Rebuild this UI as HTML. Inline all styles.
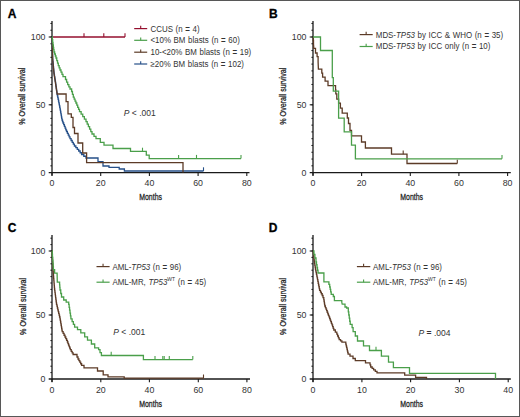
<!DOCTYPE html>
<html><head><meta charset="utf-8"><style>
html,body{margin:0;padding:0;background:#fff;}
body{width:520px;height:417px;overflow:hidden;}
svg{display:block;}
text{font-family:"Liberation Sans",sans-serif;fill:#333;}
.t{font-size:8.8px;}
.lg{font-size:8.8px;word-spacing:0.5px;}
.pv{font-size:8.5px;}
.pl{font-size:12px;font-weight:bold;fill:#000;stroke:#000;stroke-width:0.3px;}
.at{font-size:9.4px;fill:#222;stroke:#222;stroke-width:0.28px;}
</style></head><body>
<svg width="520" height="417" viewBox="0 0 520 417">
<rect x="0" y="0" width="520" height="417" fill="#fff"/>
<line x1="52" y1="21" x2="52" y2="175.6" stroke="#1a1a1a" stroke-width="1.3"/>
<line x1="48.7" y1="172.6" x2="249.5" y2="172.6" stroke="#1a1a1a" stroke-width="1.3"/>
<line x1="48.7" y1="37" x2="52" y2="37" stroke="#1a1a1a" stroke-width="1.1"/>
<line x1="48.7" y1="104.8" x2="52" y2="104.8" stroke="#1a1a1a" stroke-width="1.1"/>
<line x1="50.4" y1="165.82" x2="52" y2="165.82" stroke="#1a1a1a" stroke-width="1"/>
<line x1="50.4" y1="159.04" x2="52" y2="159.04" stroke="#1a1a1a" stroke-width="1"/>
<line x1="50.4" y1="152.26" x2="52" y2="152.26" stroke="#1a1a1a" stroke-width="1"/>
<line x1="50.4" y1="145.48" x2="52" y2="145.48" stroke="#1a1a1a" stroke-width="1"/>
<line x1="50.4" y1="138.70" x2="52" y2="138.70" stroke="#1a1a1a" stroke-width="1"/>
<line x1="50.4" y1="131.92" x2="52" y2="131.92" stroke="#1a1a1a" stroke-width="1"/>
<line x1="50.4" y1="125.14" x2="52" y2="125.14" stroke="#1a1a1a" stroke-width="1"/>
<line x1="50.4" y1="118.36" x2="52" y2="118.36" stroke="#1a1a1a" stroke-width="1"/>
<line x1="50.4" y1="111.58" x2="52" y2="111.58" stroke="#1a1a1a" stroke-width="1"/>
<line x1="50.4" y1="104.80" x2="52" y2="104.80" stroke="#1a1a1a" stroke-width="1"/>
<line x1="50.4" y1="98.02" x2="52" y2="98.02" stroke="#1a1a1a" stroke-width="1"/>
<line x1="50.4" y1="91.24" x2="52" y2="91.24" stroke="#1a1a1a" stroke-width="1"/>
<line x1="50.4" y1="84.46" x2="52" y2="84.46" stroke="#1a1a1a" stroke-width="1"/>
<line x1="50.4" y1="77.68" x2="52" y2="77.68" stroke="#1a1a1a" stroke-width="1"/>
<line x1="50.4" y1="70.90" x2="52" y2="70.90" stroke="#1a1a1a" stroke-width="1"/>
<line x1="50.4" y1="64.12" x2="52" y2="64.12" stroke="#1a1a1a" stroke-width="1"/>
<line x1="50.4" y1="57.34" x2="52" y2="57.34" stroke="#1a1a1a" stroke-width="1"/>
<line x1="50.4" y1="50.56" x2="52" y2="50.56" stroke="#1a1a1a" stroke-width="1"/>
<line x1="50.4" y1="43.78" x2="52" y2="43.78" stroke="#1a1a1a" stroke-width="1"/>
<line x1="50.4" y1="37.00" x2="52" y2="37.00" stroke="#1a1a1a" stroke-width="1"/>
<line x1="50.4" y1="30.22" x2="52" y2="30.22" stroke="#1a1a1a" stroke-width="1"/>
<line x1="50.4" y1="23.44" x2="52" y2="23.44" stroke="#1a1a1a" stroke-width="1"/>
<line x1="52" y1="172.6" x2="52" y2="175.9" stroke="#1a1a1a" stroke-width="1.1"/>
<text x="52" y="186.3" class="t" text-anchor="middle">0</text>
<line x1="100.7" y1="172.6" x2="100.7" y2="175.9" stroke="#1a1a1a" stroke-width="1.1"/>
<text x="100.7" y="186.3" class="t" text-anchor="middle">20</text>
<line x1="149.4" y1="172.6" x2="149.4" y2="175.9" stroke="#1a1a1a" stroke-width="1.1"/>
<text x="149.4" y="186.3" class="t" text-anchor="middle">40</text>
<line x1="198.1" y1="172.6" x2="198.1" y2="175.9" stroke="#1a1a1a" stroke-width="1.1"/>
<text x="198.1" y="186.3" class="t" text-anchor="middle">60</text>
<line x1="246.8" y1="172.6" x2="246.8" y2="175.9" stroke="#1a1a1a" stroke-width="1.1"/>
<text x="246.8" y="186.3" class="t" text-anchor="middle">80</text>
<text x="45.5" y="40" class="t" text-anchor="end">100</text>
<text x="45.5" y="107.8" class="t" text-anchor="end">50</text>
<text x="45.5" y="175.6" class="t" text-anchor="end">0</text>
<text x="7.7" y="18.0" class="pl">A</text>
<text class="at" text-anchor="middle" transform="translate(25.4,96.2) rotate(-90) scale(0.76,1)">% Overall survival</text>
<text class="at" text-anchor="middle" transform="translate(150.6,200) scale(0.74,1)">Months</text>
<polyline points="52,37 125,37" fill="none" stroke="#940f2e" stroke-width="1.3" stroke-linejoin="miter"/>
<line x1="84" y1="37" x2="84" y2="33.3" stroke="#940f2e" stroke-width="1.1"/>
<line x1="103.8" y1="37" x2="103.8" y2="33.3" stroke="#940f2e" stroke-width="1.1"/>
<line x1="125" y1="37" x2="125" y2="33.3" stroke="#940f2e" stroke-width="1.1"/>
<polyline points="52,37 52.05,37 52.05,38.64 52.1,38.64 52.1,40.29 52.15,40.29 52.15,41.93 52.2,41.93 52.2,43.57 52.25,43.57 52.25,45.21 52.3,45.21 52.3,46.86 52.35,46.86 52.35,48.5 52.4,48.5 52.4,50.14 52.45,50.14 52.45,51.79 52.5,51.79 52.5,53.43 52.55,53.43 52.55,55.07 52.6,55.07 52.6,56.71 52.65,56.71 52.65,58.36 52.7,58.36 52.7,60 52.86,60 52.86,61.69 53.03,61.69 53.03,63.38 53.19,63.38 53.19,65.06 53.35,65.06 53.35,66.75 53.51,66.75 53.51,68.44 53.67,68.44 53.67,70.12 53.84,70.12 53.84,71.81 54,71.81 54,73.5 54.25,73.5 54.25,75.08 54.5,75.08 54.5,76.67 54.75,76.67 54.75,78.25 55,78.25 55,79.83 55.25,79.83 55.25,81.42 55.5,81.42 55.5,83 55.75,83 55.75,84.83 56,84.83 56,86.67 56.25,86.67 56.25,88.5 56.5,88.5 56.5,90.33 56.75,90.33 56.75,92.17 57,92.17 57,94 57.38,94 57.38,95.75 57.75,95.75 57.75,97.5 58.12,97.5 58.12,99.25 58.5,99.25 58.5,101 58.8,101 58.8,102.56 59.1,102.56 59.1,104.12 59.4,104.12 59.4,105.68 59.7,105.68 59.7,107.24 60,107.24 60,108.8 60.29,108.8 60.29,110.4 60.57,110.4 60.57,112 60.86,112 60.86,113.6 61.14,113.6 61.14,115.2 61.43,115.2 61.43,116.8 61.71,116.8 61.71,118.4 62,118.4 62,120 62.5,120 62.5,121.5 63,121.5 63,123 63.7,123 63.7,124.7 64.4,124.7 64.4,126.4 65.1,126.4 65.1,128.1 65.8,128.1 65.8,129.8 66.5,129.8 66.5,131.5 67.38,131.5 67.38,133.3 68.25,133.3 68.25,135.1 69.12,135.1 69.12,136.9 70,136.9 70,138.7 71.1,138.7 71.1,140.52 72.2,140.52 72.2,142.35 73.3,142.35 73.3,144.18 74.4,144.18 74.4,146 75.83,146 75.83,147.67 77.27,147.67 77.27,149.33 78.7,149.33 78.7,151 80.15,151 80.15,152.75 81.6,152.75 81.6,154.5 83.8,154.5 83.8,156.25 86,156.25 86,158 98,158 98,161.7 103,161.7 103,166 109,166 109,167.3 119.2,167.3 119.2,169 124.4,169 124.4,171 203.5,171" fill="none" stroke="#254f88" stroke-width="1.3" stroke-linejoin="miter"/>
<polyline points="52,37 52.7,60 54,73.5 55.5,83 57.2,94 66.1,94 66.1,101.6 68,101.6 68,113.8 71.3,113.8 71.3,117.4 73,117.4 73,127.5 74.5,127.5 74.5,133.5 78,133.5 78,143 82.7,143 82.7,153 86.6,153 86.6,162.7 183,162.7 183,172.6" fill="none" stroke="#5c3b27" stroke-width="1.3" stroke-linejoin="miter"/>
<polyline points="52,37 52.33,37 52.33,39.67 52.67,39.67 52.67,42.33 53,42.33 53,45 53.33,45 53.33,47.33 53.67,47.33 53.67,49.67 54,49.67 54,52 54.67,52 54.67,54 55.33,54 55.33,56 56,56 56,58 56.77,58 56.77,60.53 57.53,60.53 57.53,63.07 58.3,63.07 58.3,65.6 59.15,65.6 59.15,67.8 60,67.8 60,70 61,70 61,72.2 62,72.2 62,74.4 63,74.4 63,76.6 65.5,76.6 65.5,79.5 66.6,79.5 66.6,82.05 67.7,82.05 67.7,84.6 68.85,84.6 68.85,86.8 70,86.8 70,89 71.6,89 71.6,91.5 72.45,91.5 72.45,94.35 73.3,94.35 73.3,97.2 74.17,97.2 74.17,99.13 75.03,99.13 75.03,101.07 75.9,101.07 75.9,103 76.8,103 76.8,105.15 77.7,105.15 77.7,107.3 78.6,107.3 78.6,109.45 79.5,109.45 79.5,111.6 81.12,111.6 81.12,114.12 82.75,114.12 82.75,116.65 84.38,116.65 84.38,119.17 86,119.17 86,121.7 87.2,121.7 87.2,124.16 88.4,124.16 88.4,126.62 89.6,126.62 89.6,129.08 90.8,129.08 90.8,131.54 92,131.54 92,134 94,134 94,136.35 96,136.35 96,138.7 100.3,138.7 100.3,142.3 104,142.3 104,145.2 113,145.2 113,148.5 130.5,148.5 130.5,151.4 146.3,151.4 146.3,155.2 149.2,155.2 149.2,158.6 241,158.6" fill="none" stroke="#4a9f4a" stroke-width="1.3" stroke-linejoin="miter"/>
<line x1="142.5" y1="151.4" x2="142.5" y2="147.70000000000002" stroke="#4a9f4a" stroke-width="1.1"/>
<line x1="178.6" y1="158.6" x2="178.6" y2="154.9" stroke="#4a9f4a" stroke-width="1.1"/>
<line x1="196.5" y1="158.6" x2="196.5" y2="154.9" stroke="#4a9f4a" stroke-width="1.1"/>
<line x1="241" y1="158.6" x2="241" y2="154.9" stroke="#4a9f4a" stroke-width="1.1"/>
<line x1="203.5" y1="171" x2="203.5" y2="167.3" stroke="#254f88" stroke-width="1.1"/>
<line x1="134.2" y1="28.6" x2="147.2" y2="28.6" stroke="#940f2e" stroke-width="1.2"/>
<line x1="140.7" y1="28.6" x2="140.7" y2="25.8" stroke="#940f2e" stroke-width="1.1"/>
<text transform="translate(150.5,31.5) scale(0.9,1)" class="lg">CCUS (n <tspan font-weight="bold">=</tspan> 4)</text>
<line x1="134.2" y1="40.3" x2="147.2" y2="40.3" stroke="#4a9f4a" stroke-width="1.2"/>
<line x1="140.7" y1="40.3" x2="140.7" y2="37.5" stroke="#4a9f4a" stroke-width="1.1"/>
<text transform="translate(150.5,43.199999999999996) scale(0.9,1)" class="lg">&lt;10% BM blasts (n <tspan font-weight="bold">=</tspan> 60)</text>
<line x1="134.2" y1="52.2" x2="147.2" y2="52.2" stroke="#5c3b27" stroke-width="1.2"/>
<line x1="140.7" y1="52.2" x2="140.7" y2="49.400000000000006" stroke="#5c3b27" stroke-width="1.1"/>
<text transform="translate(150.5,55.1) scale(0.9,1)" class="lg">10-&lt;20% BM blasts (n <tspan font-weight="bold">=</tspan> 19)</text>
<line x1="134.2" y1="64.0" x2="147.2" y2="64.0" stroke="#254f88" stroke-width="1.2"/>
<line x1="140.7" y1="64.0" x2="140.7" y2="61.2" stroke="#254f88" stroke-width="1.1"/>
<text transform="translate(150.5,66.9) scale(0.9,1)" class="lg">&#8805;20% BM blasts (n <tspan font-weight="bold">=</tspan> 102)</text>
<text x="123.8" y="115.8" class="pv"><tspan font-style="italic">P</tspan> &lt; .001</text>
<line x1="313" y1="21" x2="313" y2="175.6" stroke="#1a1a1a" stroke-width="1.3"/>
<line x1="309.7" y1="172.6" x2="510.8" y2="172.6" stroke="#1a1a1a" stroke-width="1.3"/>
<line x1="309.7" y1="37" x2="313" y2="37" stroke="#1a1a1a" stroke-width="1.1"/>
<line x1="309.7" y1="104.8" x2="313" y2="104.8" stroke="#1a1a1a" stroke-width="1.1"/>
<line x1="311.4" y1="165.82" x2="313" y2="165.82" stroke="#1a1a1a" stroke-width="1"/>
<line x1="311.4" y1="159.04" x2="313" y2="159.04" stroke="#1a1a1a" stroke-width="1"/>
<line x1="311.4" y1="152.26" x2="313" y2="152.26" stroke="#1a1a1a" stroke-width="1"/>
<line x1="311.4" y1="145.48" x2="313" y2="145.48" stroke="#1a1a1a" stroke-width="1"/>
<line x1="311.4" y1="138.70" x2="313" y2="138.70" stroke="#1a1a1a" stroke-width="1"/>
<line x1="311.4" y1="131.92" x2="313" y2="131.92" stroke="#1a1a1a" stroke-width="1"/>
<line x1="311.4" y1="125.14" x2="313" y2="125.14" stroke="#1a1a1a" stroke-width="1"/>
<line x1="311.4" y1="118.36" x2="313" y2="118.36" stroke="#1a1a1a" stroke-width="1"/>
<line x1="311.4" y1="111.58" x2="313" y2="111.58" stroke="#1a1a1a" stroke-width="1"/>
<line x1="311.4" y1="104.80" x2="313" y2="104.80" stroke="#1a1a1a" stroke-width="1"/>
<line x1="311.4" y1="98.02" x2="313" y2="98.02" stroke="#1a1a1a" stroke-width="1"/>
<line x1="311.4" y1="91.24" x2="313" y2="91.24" stroke="#1a1a1a" stroke-width="1"/>
<line x1="311.4" y1="84.46" x2="313" y2="84.46" stroke="#1a1a1a" stroke-width="1"/>
<line x1="311.4" y1="77.68" x2="313" y2="77.68" stroke="#1a1a1a" stroke-width="1"/>
<line x1="311.4" y1="70.90" x2="313" y2="70.90" stroke="#1a1a1a" stroke-width="1"/>
<line x1="311.4" y1="64.12" x2="313" y2="64.12" stroke="#1a1a1a" stroke-width="1"/>
<line x1="311.4" y1="57.34" x2="313" y2="57.34" stroke="#1a1a1a" stroke-width="1"/>
<line x1="311.4" y1="50.56" x2="313" y2="50.56" stroke="#1a1a1a" stroke-width="1"/>
<line x1="311.4" y1="43.78" x2="313" y2="43.78" stroke="#1a1a1a" stroke-width="1"/>
<line x1="311.4" y1="37.00" x2="313" y2="37.00" stroke="#1a1a1a" stroke-width="1"/>
<line x1="311.4" y1="30.22" x2="313" y2="30.22" stroke="#1a1a1a" stroke-width="1"/>
<line x1="311.4" y1="23.44" x2="313" y2="23.44" stroke="#1a1a1a" stroke-width="1"/>
<line x1="313" y1="172.6" x2="313" y2="175.9" stroke="#1a1a1a" stroke-width="1.1"/>
<text x="313" y="186.3" class="t" text-anchor="middle">0</text>
<line x1="361.6" y1="172.6" x2="361.6" y2="175.9" stroke="#1a1a1a" stroke-width="1.1"/>
<text x="361.6" y="186.3" class="t" text-anchor="middle">20</text>
<line x1="410.3" y1="172.6" x2="410.3" y2="175.9" stroke="#1a1a1a" stroke-width="1.1"/>
<text x="410.3" y="186.3" class="t" text-anchor="middle">40</text>
<line x1="458.9" y1="172.6" x2="458.9" y2="175.9" stroke="#1a1a1a" stroke-width="1.1"/>
<text x="458.9" y="186.3" class="t" text-anchor="middle">60</text>
<line x1="507.6" y1="172.6" x2="507.6" y2="175.9" stroke="#1a1a1a" stroke-width="1.1"/>
<text x="507.6" y="186.3" class="t" text-anchor="middle">80</text>
<text x="306.5" y="40" class="t" text-anchor="end">100</text>
<text x="306.5" y="107.8" class="t" text-anchor="end">50</text>
<text x="306.5" y="175.6" class="t" text-anchor="end">0</text>
<text x="268.9" y="18.0" class="pl">B</text>
<text class="at" text-anchor="middle" transform="translate(286.2,96.2) rotate(-90) scale(0.76,1)">% Overall survival</text>
<text class="at" text-anchor="middle" transform="translate(411.7,200) scale(0.74,1)">Months</text>
<polyline points="313,37 313.25,37 313.25,40.5 313.5,40.5 313.5,44 313.8,48.4 315.5,48.4 315.5,53 317.1,53 317.1,56.6 318.1,56.6 318.1,61.9 318.4,69.2 321.8,69.2 321.8,73.2 322.6,73.2 322.6,77.1 325.1,77.1 325.1,81.1 328,81.1 328,85.7 335.3,85.7 335.55,85.7 335.55,89.75 335.8,89.75 335.8,93.8 336.8,93.8 336.8,99.2 338.6,99.2 338.6,103.1 340.4,103.1 340.4,108.1 342.2,108.1 342.2,113.2 347.3,113.2 347.3,118 348.5,118 348.5,123.5 350,123.5 350,130.4 351.5,130.4 351.5,135.8 361.5,135.8 361.5,142 365.4,142 365.4,148 391.5,148 391.5,154.2 407,154.2 407,163.5 457.3,163.5" fill="none" stroke="#5c3b27" stroke-width="1.3" stroke-linejoin="miter"/>
<polyline points="313,37 320.5,37 320.5,50.5 332.3,50.5 332.3,77.7 333.3,77.7 333.3,91.2 338.6,91.2 338.6,118.2 344.2,118.2 344.2,131.8 351.5,131.8 351.5,145.2 355.4,145.2 355.4,158.8 502,158.8" fill="none" stroke="#4a9f4a" stroke-width="1.3" stroke-linejoin="miter"/>
<line x1="403.2" y1="154.2" x2="403.2" y2="150.5" stroke="#5c3b27" stroke-width="1.1"/>
<line x1="457.3" y1="163.5" x2="457.3" y2="159.8" stroke="#5c3b27" stroke-width="1.1"/>
<line x1="502" y1="158.8" x2="502" y2="155.10000000000002" stroke="#4a9f4a" stroke-width="1.1"/>
<line x1="359.6" y1="34.6" x2="372.7" y2="34.6" stroke="#5c3b27" stroke-width="1.2"/>
<line x1="366.15" y1="34.6" x2="366.15" y2="31.8" stroke="#5c3b27" stroke-width="1.1"/>
<text transform="translate(375.8,37.5) scale(0.9,1)" class="lg">MDS-<tspan font-style="italic">TP53</tspan> by ICC &amp; WHO (n <tspan font-weight="bold">=</tspan> 35)</text>
<line x1="359.6" y1="46.5" x2="372.7" y2="46.5" stroke="#4a9f4a" stroke-width="1.2"/>
<line x1="366.15" y1="46.5" x2="366.15" y2="43.7" stroke="#4a9f4a" stroke-width="1.1"/>
<text transform="translate(375.8,49.4) scale(0.9,1)" class="lg">MDS-<tspan font-style="italic">TP53</tspan> by ICC only (n <tspan font-weight="bold">=</tspan> 10)</text>
<line x1="52" y1="235" x2="52" y2="382" stroke="#1a1a1a" stroke-width="1.3"/>
<line x1="48.7" y1="379" x2="250" y2="379" stroke="#1a1a1a" stroke-width="1.3"/>
<line x1="48.7" y1="251" x2="52" y2="251" stroke="#1a1a1a" stroke-width="1.1"/>
<line x1="48.7" y1="315.0" x2="52" y2="315.0" stroke="#1a1a1a" stroke-width="1.1"/>
<line x1="50.4" y1="372.60" x2="52" y2="372.60" stroke="#1a1a1a" stroke-width="1"/>
<line x1="50.4" y1="366.20" x2="52" y2="366.20" stroke="#1a1a1a" stroke-width="1"/>
<line x1="50.4" y1="359.80" x2="52" y2="359.80" stroke="#1a1a1a" stroke-width="1"/>
<line x1="50.4" y1="353.40" x2="52" y2="353.40" stroke="#1a1a1a" stroke-width="1"/>
<line x1="50.4" y1="347.00" x2="52" y2="347.00" stroke="#1a1a1a" stroke-width="1"/>
<line x1="50.4" y1="340.60" x2="52" y2="340.60" stroke="#1a1a1a" stroke-width="1"/>
<line x1="50.4" y1="334.20" x2="52" y2="334.20" stroke="#1a1a1a" stroke-width="1"/>
<line x1="50.4" y1="327.80" x2="52" y2="327.80" stroke="#1a1a1a" stroke-width="1"/>
<line x1="50.4" y1="321.40" x2="52" y2="321.40" stroke="#1a1a1a" stroke-width="1"/>
<line x1="50.4" y1="315.00" x2="52" y2="315.00" stroke="#1a1a1a" stroke-width="1"/>
<line x1="50.4" y1="308.60" x2="52" y2="308.60" stroke="#1a1a1a" stroke-width="1"/>
<line x1="50.4" y1="302.20" x2="52" y2="302.20" stroke="#1a1a1a" stroke-width="1"/>
<line x1="50.4" y1="295.80" x2="52" y2="295.80" stroke="#1a1a1a" stroke-width="1"/>
<line x1="50.4" y1="289.40" x2="52" y2="289.40" stroke="#1a1a1a" stroke-width="1"/>
<line x1="50.4" y1="283.00" x2="52" y2="283.00" stroke="#1a1a1a" stroke-width="1"/>
<line x1="50.4" y1="276.60" x2="52" y2="276.60" stroke="#1a1a1a" stroke-width="1"/>
<line x1="50.4" y1="270.20" x2="52" y2="270.20" stroke="#1a1a1a" stroke-width="1"/>
<line x1="50.4" y1="263.80" x2="52" y2="263.80" stroke="#1a1a1a" stroke-width="1"/>
<line x1="50.4" y1="257.40" x2="52" y2="257.40" stroke="#1a1a1a" stroke-width="1"/>
<line x1="50.4" y1="251.00" x2="52" y2="251.00" stroke="#1a1a1a" stroke-width="1"/>
<line x1="50.4" y1="244.60" x2="52" y2="244.60" stroke="#1a1a1a" stroke-width="1"/>
<line x1="50.4" y1="238.20" x2="52" y2="238.20" stroke="#1a1a1a" stroke-width="1"/>
<line x1="52" y1="379" x2="52" y2="382.3" stroke="#1a1a1a" stroke-width="1.1"/>
<text x="52" y="393" class="t" text-anchor="middle">0</text>
<line x1="100.8" y1="379" x2="100.8" y2="382.3" stroke="#1a1a1a" stroke-width="1.1"/>
<text x="100.8" y="393" class="t" text-anchor="middle">20</text>
<line x1="149.4" y1="379" x2="149.4" y2="382.3" stroke="#1a1a1a" stroke-width="1.1"/>
<text x="149.4" y="393" class="t" text-anchor="middle">40</text>
<line x1="198.3" y1="379" x2="198.3" y2="382.3" stroke="#1a1a1a" stroke-width="1.1"/>
<text x="198.3" y="393" class="t" text-anchor="middle">60</text>
<line x1="246.9" y1="379" x2="246.9" y2="382.3" stroke="#1a1a1a" stroke-width="1.1"/>
<text x="246.9" y="393" class="t" text-anchor="middle">80</text>
<text x="45.5" y="254" class="t" text-anchor="end">100</text>
<text x="45.5" y="318.0" class="t" text-anchor="end">50</text>
<text x="45.5" y="382" class="t" text-anchor="end">0</text>
<text x="7.7" y="232.0" class="pl">C</text>
<text class="at" text-anchor="middle" transform="translate(25.6,306.4) rotate(-90) scale(0.76,1)">% Overall survival</text>
<text class="at" text-anchor="middle" transform="translate(150.6,407) scale(0.74,1)">Months</text>
<polyline points="52,251 52.09,251 52.09,252.73 52.18,252.73 52.18,254.45 52.27,254.45 52.27,256.18 52.36,256.18 52.36,257.91 52.45,257.91 52.45,259.64 52.55,259.64 52.55,261.36 52.64,261.36 52.64,263.09 52.73,263.09 52.73,264.82 52.82,264.82 52.82,266.55 52.91,266.55 52.91,268.27 53,268.27 53,270 53.14,270 53.14,271.73 53.27,271.73 53.27,273.45 53.41,273.45 53.41,275.18 53.55,275.18 53.55,276.91 53.68,276.91 53.68,278.64 53.82,278.64 53.82,280.36 53.95,280.36 53.95,282.09 54.09,282.09 54.09,283.82 54.23,283.82 54.23,285.55 54.36,285.55 54.36,287.27 54.5,287.27 54.5,289 54.72,289 54.72,290.71 54.94,290.71 54.94,292.42 55.17,292.42 55.17,294.13 55.39,294.13 55.39,295.84 55.61,295.84 55.61,297.56 55.83,297.56 55.83,299.27 56.06,299.27 56.06,300.98 56.28,300.98 56.28,302.69 56.5,302.69 56.5,304.4 56.94,304.4 56.94,306.2 57.38,306.2 57.38,308 57.81,308 57.81,309.8 58.25,309.8 58.25,311.6 58.69,311.6 58.69,313.4 59.12,313.4 59.12,315.2 59.56,315.2 59.56,317 60,317 60,318.8 60.27,318.8 60.27,320.41 60.55,320.41 60.55,322.02 60.83,322.02 60.83,323.64 61.1,323.64 61.1,325.25 61.38,325.25 61.38,326.86 61.65,326.86 61.65,328.48 61.93,328.48 61.93,330.09 62.2,330.09 62.2,331.7 63.13,331.7 63.13,333.47 64.07,333.47 64.07,335.23 65,335.23 65,337 65.8,337 65.8,338.67 66.6,338.67 66.6,340.33 67.4,340.33 67.4,342 67.98,342 67.98,343.54 68.56,343.54 68.56,345.08 69.14,345.08 69.14,346.62 69.72,346.62 69.72,348.16 70.3,348.16 70.3,349.7 71.23,349.7 71.23,351.3 72.17,351.3 72.17,352.9 73.1,352.9 73.1,354.5 77,354.5 77,357 78,357 78,359 78.9,359 78.9,360.57 79.8,360.57 79.8,362.15 80.7,362.15 80.7,363.73 81.6,363.73 81.6,365.3 84,365.3 84,367.8 97.5,367.8 97.5,371 103.2,371 103.2,374.8 108,374.8 108,376.9 124.2,376.9 124.2,378.2 203.5,378.2" fill="none" stroke="#5c3b27" stroke-width="1.3" stroke-linejoin="miter"/>
<polyline points="52,251 52.23,251 52.23,254.1 52.47,254.1 52.47,257.2 52.7,257.2 52.7,260.3 52.93,260.3 52.93,263.4 53.17,263.4 53.17,266.5 53.4,266.5 53.4,269.6 54.6,269.6 54.6,273.2 57.1,273.2 57.3,282.2 59.4,282.2 59.6,282.2 59.6,284.8 59.8,284.8 59.8,287.4 60,287.4 60,290 60.75,290 60.75,293.5 61.5,293.5 61.5,297 63.7,297 63.7,300 66.2,300 66.2,302.2 68.7,302.2 68.7,304.4 69.14,304.4 69.14,307.28 69.58,307.28 69.58,310.16 70.02,310.16 70.02,313.04 70.46,313.04 70.46,315.92 70.9,315.92 70.9,318.8 72.13,318.8 72.13,321.6 73.37,321.6 73.37,324.4 74.6,324.4 74.6,327.2 77.5,327.2 77.5,329.6 80.8,329.6 80.8,332.9 84.7,332.9 84.7,336.8 87.5,336.8 87.5,340.1 91.4,340.1 91.4,344 94.7,344 94.7,347.8 98.6,347.8 98.6,349.7 100,349.7 100,352.6 101.4,352.6 101.4,355.5 143.4,355.5 143.4,359.6 192.8,359.6" fill="none" stroke="#4a9f4a" stroke-width="1.3" stroke-linejoin="miter"/>
<line x1="111.2" y1="355.5" x2="111.2" y2="351.8" stroke="#4a9f4a" stroke-width="1.1"/>
<line x1="155" y1="359.6" x2="155" y2="355.90000000000003" stroke="#4a9f4a" stroke-width="1.1"/>
<line x1="162.8" y1="359.6" x2="162.8" y2="355.90000000000003" stroke="#4a9f4a" stroke-width="1.1"/>
<line x1="164.2" y1="359.6" x2="164.2" y2="355.90000000000003" stroke="#4a9f4a" stroke-width="1.1"/>
<line x1="169.3" y1="359.6" x2="169.3" y2="355.90000000000003" stroke="#4a9f4a" stroke-width="1.1"/>
<line x1="192.8" y1="359.6" x2="192.8" y2="355.90000000000003" stroke="#4a9f4a" stroke-width="1.1"/>
<line x1="203.5" y1="378.2" x2="203.5" y2="374.5" stroke="#5c3b27" stroke-width="1.1"/>
<line x1="96.5" y1="266.6" x2="109.6" y2="266.6" stroke="#5c3b27" stroke-width="1.2"/>
<line x1="103.05" y1="266.6" x2="103.05" y2="263.8" stroke="#5c3b27" stroke-width="1.1"/>
<text transform="translate(112.4,269.5) scale(0.9,1)" class="lg">AML-<tspan font-style="italic">TP53</tspan> (n <tspan font-weight="bold">=</tspan> 96)</text>
<line x1="96.5" y1="282.2" x2="109.6" y2="282.2" stroke="#4a9f4a" stroke-width="1.2"/>
<line x1="103.05" y1="282.2" x2="103.05" y2="279.4" stroke="#4a9f4a" stroke-width="1.1"/>
<text transform="translate(112.4,285.09999999999997) scale(0.9,1)" class="lg">AML-MR, <tspan font-style="italic">TP53</tspan><tspan font-size="5.6" dy="-4">WT</tspan><tspan dy="4"> (</tspan>n <tspan font-weight="bold">=</tspan> 45)</text>
<text x="113.3" y="334.8" class="pv"><tspan font-style="italic">P</tspan> &lt; .001</text>
<line x1="313" y1="235" x2="313" y2="382" stroke="#1a1a1a" stroke-width="1.3"/>
<line x1="309.7" y1="379" x2="510.8" y2="379" stroke="#1a1a1a" stroke-width="1.3"/>
<line x1="309.7" y1="251" x2="313" y2="251" stroke="#1a1a1a" stroke-width="1.1"/>
<line x1="309.7" y1="315.0" x2="313" y2="315.0" stroke="#1a1a1a" stroke-width="1.1"/>
<line x1="311.4" y1="372.60" x2="313" y2="372.60" stroke="#1a1a1a" stroke-width="1"/>
<line x1="311.4" y1="366.20" x2="313" y2="366.20" stroke="#1a1a1a" stroke-width="1"/>
<line x1="311.4" y1="359.80" x2="313" y2="359.80" stroke="#1a1a1a" stroke-width="1"/>
<line x1="311.4" y1="353.40" x2="313" y2="353.40" stroke="#1a1a1a" stroke-width="1"/>
<line x1="311.4" y1="347.00" x2="313" y2="347.00" stroke="#1a1a1a" stroke-width="1"/>
<line x1="311.4" y1="340.60" x2="313" y2="340.60" stroke="#1a1a1a" stroke-width="1"/>
<line x1="311.4" y1="334.20" x2="313" y2="334.20" stroke="#1a1a1a" stroke-width="1"/>
<line x1="311.4" y1="327.80" x2="313" y2="327.80" stroke="#1a1a1a" stroke-width="1"/>
<line x1="311.4" y1="321.40" x2="313" y2="321.40" stroke="#1a1a1a" stroke-width="1"/>
<line x1="311.4" y1="315.00" x2="313" y2="315.00" stroke="#1a1a1a" stroke-width="1"/>
<line x1="311.4" y1="308.60" x2="313" y2="308.60" stroke="#1a1a1a" stroke-width="1"/>
<line x1="311.4" y1="302.20" x2="313" y2="302.20" stroke="#1a1a1a" stroke-width="1"/>
<line x1="311.4" y1="295.80" x2="313" y2="295.80" stroke="#1a1a1a" stroke-width="1"/>
<line x1="311.4" y1="289.40" x2="313" y2="289.40" stroke="#1a1a1a" stroke-width="1"/>
<line x1="311.4" y1="283.00" x2="313" y2="283.00" stroke="#1a1a1a" stroke-width="1"/>
<line x1="311.4" y1="276.60" x2="313" y2="276.60" stroke="#1a1a1a" stroke-width="1"/>
<line x1="311.4" y1="270.20" x2="313" y2="270.20" stroke="#1a1a1a" stroke-width="1"/>
<line x1="311.4" y1="263.80" x2="313" y2="263.80" stroke="#1a1a1a" stroke-width="1"/>
<line x1="311.4" y1="257.40" x2="313" y2="257.40" stroke="#1a1a1a" stroke-width="1"/>
<line x1="311.4" y1="251.00" x2="313" y2="251.00" stroke="#1a1a1a" stroke-width="1"/>
<line x1="311.4" y1="244.60" x2="313" y2="244.60" stroke="#1a1a1a" stroke-width="1"/>
<line x1="311.4" y1="238.20" x2="313" y2="238.20" stroke="#1a1a1a" stroke-width="1"/>
<line x1="313" y1="379" x2="313" y2="382.3" stroke="#1a1a1a" stroke-width="1.1"/>
<text x="313" y="393" class="t" text-anchor="middle">0</text>
<line x1="361.9" y1="379" x2="361.9" y2="382.3" stroke="#1a1a1a" stroke-width="1.1"/>
<text x="361.9" y="393" class="t" text-anchor="middle">10</text>
<line x1="410.6" y1="379" x2="410.6" y2="382.3" stroke="#1a1a1a" stroke-width="1.1"/>
<text x="410.6" y="393" class="t" text-anchor="middle">20</text>
<line x1="459.4" y1="379" x2="459.4" y2="382.3" stroke="#1a1a1a" stroke-width="1.1"/>
<text x="459.4" y="393" class="t" text-anchor="middle">30</text>
<line x1="508.2" y1="379" x2="508.2" y2="382.3" stroke="#1a1a1a" stroke-width="1.1"/>
<text x="508.2" y="393" class="t" text-anchor="middle">40</text>
<text x="306.5" y="254" class="t" text-anchor="end">100</text>
<text x="306.5" y="318.0" class="t" text-anchor="end">50</text>
<text x="306.5" y="382" class="t" text-anchor="end">0</text>
<text x="268.7" y="232.0" class="pl">D</text>
<text class="at" text-anchor="middle" transform="translate(286.4,306.4) rotate(-90) scale(0.76,1)">% Overall survival</text>
<text class="at" text-anchor="middle" transform="translate(411.7,407) scale(0.74,1)">Months</text>
<polyline points="313,251 313.2,251 313.2,252.8 313.4,252.8 313.4,254.6 313.6,254.6 313.6,256.4 313.8,256.4 313.8,258.2 314,258.2 314,260 314.28,260 314.28,261.8 314.56,261.8 314.56,263.6 314.84,263.6 314.84,265.4 315.12,265.4 315.12,267.2 315.4,267.2 315.4,269 315.75,269 315.75,270.78 316.1,270.78 316.1,272.57 316.45,272.57 316.45,274.35 316.8,274.35 316.8,276.13 317.15,276.13 317.15,277.92 317.5,277.92 317.5,279.7 317.85,279.7 317.85,281.47 318.2,281.47 318.2,283.23 318.55,283.23 318.55,285 318.9,285 318.9,286.77 319.25,286.77 319.25,288.53 319.6,288.53 319.6,290.3 320.47,290.3 320.47,292.03 321.33,292.03 321.33,293.77 322.2,293.77 322.2,295.5 323,295.5 323,297.6 323.8,297.6 323.8,299.7 324.05,299.7 324.05,301.27 324.3,301.27 324.3,302.85 324.55,302.85 324.55,304.43 324.8,304.43 324.8,306 325.4,306 325.4,307.56 326,307.56 326,309.12 326.6,309.12 326.6,310.68 327.2,310.68 327.2,312.24 327.8,312.24 327.8,313.8 328.4,313.8 328.4,315.36 329,315.36 329,316.92 329.6,316.92 329.6,318.48 330.2,318.48 330.2,320.04 330.8,320.04 330.8,321.6 331.4,321.6 331.4,323.28 332,323.28 332,324.96 332.6,324.96 332.6,326.64 333.2,326.64 333.2,328.32 333.8,328.32 333.8,330 335.3,330 335.3,332.1 336.8,332.1 336.8,334.2 337.6,334.2 337.6,336 338.4,336 338.4,337.8 339.2,337.8 339.2,339.6 340.55,339.6 340.55,340.9 341.9,340.9 341.9,342.2 345.8,342.2 345.8,344.1 346.18,344.1 346.18,345.78 346.57,345.78 346.57,347.47 346.95,347.47 346.95,349.15 347.33,349.15 347.33,350.83 347.72,350.83 347.72,352.52 348.1,352.52 348.1,354.2 350,354.2 350,356.1 353,356.1 353,358.5 355.3,358.5 355.3,360.6 365.5,360.6 365.5,362.9 369.4,362.9 370.05,362.9 370.05,364.95 370.7,364.95 370.7,367 372.15,367 372.15,368.4 373.6,368.4 373.6,369.8 375.3,369.8 375.3,371.35 377,371.35 377,372.9 404.7,372.9 404.7,375.2 415.6,375.2 415.6,377.3 426.5,377.3 426.5,379" fill="none" stroke="#5c3b27" stroke-width="1.3" stroke-linejoin="miter"/>
<polyline points="313,251 313.95,251 313.95,254.5 314.9,254.5 314.9,258 316,258 316,262 316.5,262 316.5,264.75 317,264.75 317,267.5 317.5,267.5 317.5,270.25 318,270.25 318,273 323.9,273 323.9,281.8 328.1,281.8 328.9,281.8 328.9,284.4 329.7,284.4 329.7,287 330.2,287 330.2,289.47 330.7,289.47 330.7,291.93 331.2,291.93 331.2,294.4 333.3,294.4 333.3,296.5 334.4,296.5 334.4,300.7 339.1,300.7 341.8,300.7 341.8,302.3 342.2,304.2 345,304.2 345,307 346.6,307 346.6,308 348.3,308 348.3,311.9 348.77,311.9 348.77,315.02 349.25,315.02 349.25,318.15 349.73,318.15 349.73,321.27 350.2,321.27 350.2,324.4 352.1,324.4 352.1,327.7 353.1,327.7 353.1,331.6 355.3,331.6 355.3,333 355.3,336 357.5,336 357.5,341 363.5,341 363.5,345.8 369.5,345.8 369.5,350.5 381.4,350.5 381.4,356.2 388.5,356.2 388.5,362.1 393.4,362.1 393.4,367.7 409.5,367.7 409.5,373.3 495.5,373.3 495.5,379" fill="none" stroke="#4a9f4a" stroke-width="1.3" stroke-linejoin="miter"/>
<line x1="376" y1="350.5" x2="376" y2="346.8" stroke="#4a9f4a" stroke-width="1.1"/>
<line x1="356.9" y1="266.6" x2="370.3" y2="266.6" stroke="#5c3b27" stroke-width="1.2"/>
<line x1="363.6" y1="266.6" x2="363.6" y2="263.8" stroke="#5c3b27" stroke-width="1.1"/>
<text transform="translate(373.1,269.5) scale(0.9,1)" class="lg">AML-<tspan font-style="italic">TP53</tspan> (n <tspan font-weight="bold">=</tspan> 96)</text>
<line x1="356.9" y1="282.2" x2="370.3" y2="282.2" stroke="#4a9f4a" stroke-width="1.2"/>
<line x1="363.6" y1="282.2" x2="363.6" y2="279.4" stroke="#4a9f4a" stroke-width="1.1"/>
<text transform="translate(373.1,285.09999999999997) scale(0.9,1)" class="lg">AML-MR, <tspan font-style="italic">TP53</tspan><tspan font-size="5.6" dy="-4">WT</tspan><tspan dy="4"> (</tspan>n <tspan font-weight="bold">=</tspan> 45)</text>
<text x="418.5" y="336" class="pv"><tspan font-style="italic">P</tspan> <tspan font-weight="bold">=</tspan> .004</text>
<rect x="0.5" y="0.5" width="519" height="416" fill="none" stroke="#575757" stroke-width="1"/>
</svg>
</body></html>
